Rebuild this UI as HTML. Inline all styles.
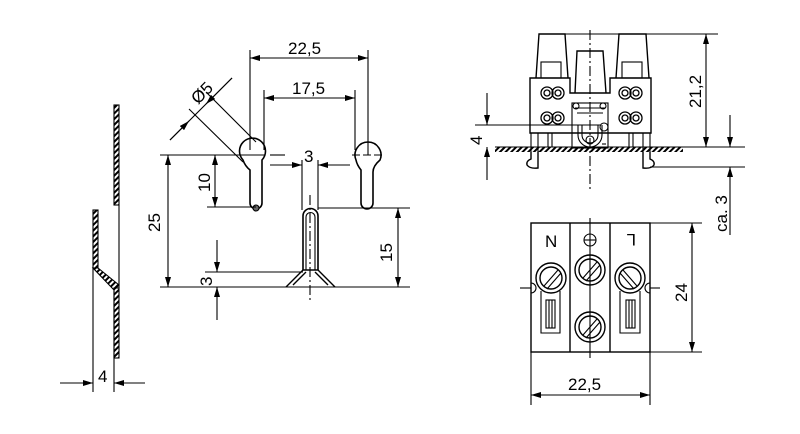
<!DOCTYPE html>
<html><head><meta charset="utf-8"><style>
html,body{margin:0;padding:0;background:#fff}
svg{display:block}
text{font-family:"Liberation Sans",sans-serif;fill:#000}
</style></head><body>
<svg width="800" height="434" viewBox="0 0 800 434" xmlns="http://www.w3.org/2000/svg">
<defs>
<marker id="a" viewBox="0 0 10 6" refX="10" refY="3" markerWidth="10" markerHeight="6" orient="auto-start-reverse" markerUnits="userSpaceOnUse"><path d="M0,0 L10,3 L0,6 z" fill="#000"/></marker>
<pattern id="h" width="4" height="4" patternUnits="userSpaceOnUse" patternTransform="rotate(45)"><rect width="2" height="4" fill="#000"/></pattern>
</defs>
<g stroke="#000" stroke-width="1.1" fill="none">
<!-- left strip -->
<rect x="114" y="105" width="5" height="100" fill="url(#h)"/>
<rect x="93" y="210" width="5" height="58" fill="url(#h)"/>
<polygon points="93,268 98,268 119,285 114,290" fill="url(#h)"/>
<rect x="114" y="288" width="5" height="70" fill="url(#h)"/>
<line x1="119" y1="205" x2="119" y2="288"/>
<line x1="93" y1="268" x2="93" y2="392"/>
<line x1="114" y1="290" x2="114" y2="392"/>
<line x1="60" y1="383" x2="93" y2="383" marker-end="url(#a)"/>
<line x1="145" y1="383" x2="114" y2="383" marker-end="url(#a)"/>

<!-- keyholes -->
<path d="M243,160 A13,13 0 1 1 262,160 L262,203 A6,6 0 0 1 250,203 L250,170 Q245,166 243,160 z" stroke-width="1.6"/>
<path d="M356,160 A13,13 0 1 1 380,160 Q373,166 373,172 L373,203 A6,6 0 0 1 361,203 L361,170 Q357,165 356,160 z" stroke-width="1.6"/>
<circle cx="256" cy="208" r="3" fill="#666"/>
<line x1="250" y1="50" x2="250" y2="150"/>
<line x1="368" y1="50" x2="368" y2="155"/>
<line x1="250" y1="58" x2="368" y2="58" marker-start="url(#a)" marker-end="url(#a)"/>
<line x1="264" y1="90" x2="264" y2="150"/>
<line x1="355" y1="90" x2="355" y2="150"/>
<line x1="264" y1="98" x2="355" y2="98" marker-start="url(#a)" marker-end="url(#a)"/>
<line x1="170" y1="140" x2="232" y2="78"/>
<line x1="206" y1="92" x2="256" y2="142"/>
<line x1="189" y1="109" x2="243" y2="162"/>
<line x1="170" y1="140" x2="189" y2="121" marker-end="url(#a)"/>
<line x1="232" y1="78" x2="206" y2="104" marker-end="url(#a)"/>
<line x1="160" y1="155" x2="265" y2="155"/>
<line x1="270" y1="155" x2="285" y2="155"/>
<line x1="352" y1="155" x2="383" y2="155" stroke-dasharray="8,3"/>
<line x1="168" y1="155" x2="168" y2="287" marker-start="url(#a)" marker-end="url(#a)"/>
<line x1="215" y1="155" x2="215" y2="207" marker-start="url(#a)" marker-end="url(#a)"/>
<line x1="207" y1="207" x2="256" y2="207"/>
<line x1="160" y1="287" x2="410" y2="287"/>
<!-- post -->
<path d="M303,270 L303,216 A7.5,7.5 0 0 1 318,216 L318,270" stroke-width="1.6"/>
<path d="M306,270 L306,217 A4.5,4.5 0 0 1 315,217 L315,270"/>
<path d="M303,270 L286,287 M318,270 L335,287 M303,270 L318,270 M306,272 L293,285 M315,272 L328,285" stroke-width="1.4"/>
<line x1="310" y1="195" x2="310" y2="300" stroke-dasharray="10,3,2,3"/>
<line x1="302" y1="160" x2="302" y2="210"/>
<line x1="318" y1="160" x2="318" y2="210"/>
<line x1="270" y1="165" x2="302" y2="165" marker-end="url(#a)"/>
<line x1="350" y1="165" x2="318" y2="165" marker-end="url(#a)"/>
<line x1="318" y1="208" x2="410" y2="208"/>
<line x1="398" y1="208" x2="398" y2="287" marker-start="url(#a)" marker-end="url(#a)"/>
<line x1="205" y1="272" x2="303" y2="272"/>
<line x1="217" y1="240" x2="217" y2="272" marker-end="url(#a)"/>
<line x1="217" y1="320" x2="217" y2="287" marker-end="url(#a)"/>

<!-- top right view -->
<path d="M536,78 L539,34 L565,34 L568,78" stroke-width="1.4"/>
<rect x="541" y="62" width="20" height="16"/>
<path d="M616,78 L619,34 L646,34 L649,78" stroke-width="1.4"/>
<rect x="622" y="62" width="20" height="16"/>
<path d="M575,93 L577,51 L603,51 L606,93" stroke-width="1.4"/>
<path d="M530,78 L570,78 L570,93 L610,93 L610,78 L651,78 L651,133 L530,133 z" stroke-width="1.4"/>
<g stroke-width="1.3">
<circle cx="547" cy="93" r="6"/><circle cx="558" cy="93" r="6"/><circle cx="547" cy="93" r="3"/><circle cx="558" cy="93" r="3"/>
<circle cx="547" cy="118" r="6"/><circle cx="558" cy="118" r="6"/><circle cx="547" cy="118" r="3"/><circle cx="558" cy="118" r="3"/>
<circle cx="625" cy="93" r="6"/><circle cx="636" cy="93" r="6"/><circle cx="625" cy="93" r="3"/><circle cx="636" cy="93" r="3"/>
<circle cx="625" cy="118" r="6"/><circle cx="636" cy="118" r="6"/><circle cx="625" cy="118" r="3"/><circle cx="636" cy="118" r="3"/>
</g>
<rect x="572" y="103" width="36" height="45"/>
<path d="M578,125 L578,135 A12,12 0 0 0 602,135 L602,125"/>
<path d="M582,125 L582,135 A8,8 0 0 0 598,135 L598,125"/>
<circle cx="590" cy="140" r="4"/><circle cx="604" cy="127" r="4"/><circle cx="576" cy="106" r="3"/><circle cx="603" cy="106" r="3"/>
<line x1="575" y1="108" x2="605" y2="108"/>
<line x1="577" y1="113" x2="603" y2="113"/>
<line x1="602" y1="144" x2="606" y2="144"/>
<rect x="495" y="147" width="188" height="5" fill="url(#h)" stroke="none"/>
<line x1="495" y1="147" x2="683" y2="147"/>
<line x1="531" y1="133" x2="531" y2="152"/><line x1="538" y1="133" x2="538" y2="152"/>
<line x1="548" y1="133" x2="548" y2="147"/><line x1="552" y1="133" x2="552" y2="147"/>
<line x1="643" y1="133" x2="643" y2="152"/><line x1="650" y1="133" x2="650" y2="152"/>
<line x1="629" y1="133" x2="629" y2="147"/><line x1="633" y1="133" x2="633" y2="147"/>
<path d="M531,152 L531,159 Q526,161 527,165 Q530,169 538,168 L538,152" stroke-width="1.4"/>
<path d="M643,152 L643,168 Q651,169 654,165 Q655,161 650,159 L650,152" stroke-width="1.4"/>
<line x1="590" y1="30" x2="590" y2="190" stroke-dasharray="10,3,2,3"/>
<line x1="475" y1="125" x2="600" y2="125"/>
<line x1="565" y1="34" x2="718" y2="34"/>
<line x1="650" y1="147" x2="745" y2="147"/>
<line x1="650" y1="167" x2="745" y2="167"/>
<line x1="706" y1="34" x2="706" y2="147" marker-start="url(#a)" marker-end="url(#a)"/>
<line x1="487" y1="93" x2="487" y2="125" marker-end="url(#a)"/>
<line x1="487" y1="180" x2="487" y2="147" marker-end="url(#a)"/>
<line x1="730" y1="115" x2="730" y2="147" marker-end="url(#a)"/>
<line x1="730" y1="235" x2="730" y2="167" marker-end="url(#a)"/>

<!-- bottom view -->
<rect x="531" y="223" width="119" height="129" stroke-width="1.4"/>
<line x1="570" y1="223" x2="570" y2="352" stroke-width="1.4"/>
<line x1="610" y1="223" x2="610" y2="352" stroke-width="1.4"/>
<line x1="590" y1="218" x2="590" y2="358"/>
<circle cx="590" cy="240" r="6"/><line x1="584" y1="240" x2="596" y2="240"/>
<g stroke-width="1.4">
<circle cx="551" cy="278" r="15"/><circle cx="551" cy="278" r="11"/>
<circle cx="590" cy="270" r="15"/><circle cx="590" cy="270" r="11"/>
<circle cx="590" cy="327" r="15"/><circle cx="590" cy="327" r="11"/>
<circle cx="630" cy="278" r="15"/><circle cx="630" cy="278" r="11"/>
</g>
<path d="M544,286 L558,270 M547,289 L561,273 M583,278 L597,262 M586,281 L600,265 M583,335 L597,319 M586,338 L600,322 M623,270 L637,286 M620,273 L634,289"/>
<path d="M541,291 L541,333 L560,333 L560,291"/><rect x="546" y="300" width="9" height="28"/>
<line x1="549" y1="300" x2="549" y2="328"/><line x1="552" y1="300" x2="552" y2="328"/>
<path d="M620,291 L620,333 L640,333 L640,291"/><rect x="626" y="300" width="9" height="28"/>
<line x1="629" y1="300" x2="629" y2="328"/><line x1="632" y1="300" x2="632" y2="328"/>
<path d="M531,283 A5,5 0 0 1 531,293"/><path d="M650,283 A5,5 0 0 0 650,293"/>
<line x1="520" y1="288" x2="531" y2="288"/><line x1="650" y1="288" x2="660" y2="288"/>
<line x1="650" y1="223" x2="702" y2="223"/><line x1="650" y1="352" x2="702" y2="352"/>
<line x1="692" y1="223" x2="692" y2="352" marker-start="url(#a)" marker-end="url(#a)"/>
<line x1="531" y1="352" x2="531" y2="405"/><line x1="650" y1="352" x2="650" y2="405"/>
<line x1="531" y1="395" x2="650" y2="395" marker-start="url(#a)" marker-end="url(#a)"/>
</g>
<g font-size="17">
<text x="98" y="382">4</text>
<text x="288" y="54">22,5</text>
<text x="292" y="94">17,5</text>
<text x="304" y="162">3</text>
<text transform="translate(198,105) rotate(-45)">Ø5</text>
<text transform="translate(160,232) rotate(-90)">25</text>
<text transform="translate(210,192) rotate(-90)">10</text>
<text transform="translate(392,262) rotate(-90)">15</text>
<text transform="translate(212,286) rotate(-90)">3</text>
<text transform="translate(482,145) rotate(-90)">4</text>
<text transform="translate(701,108) rotate(-90)">21,2</text>
<text transform="translate(727,232) rotate(-90)">ca. 3</text>
<text transform="translate(687,302) rotate(-90)">24</text>
<text x="568" y="390">22,5</text>
<text x="545" y="247">N</text>
<text transform="translate(636,234) rotate(180)">L</text>
</g>
</svg>
</body></html>
